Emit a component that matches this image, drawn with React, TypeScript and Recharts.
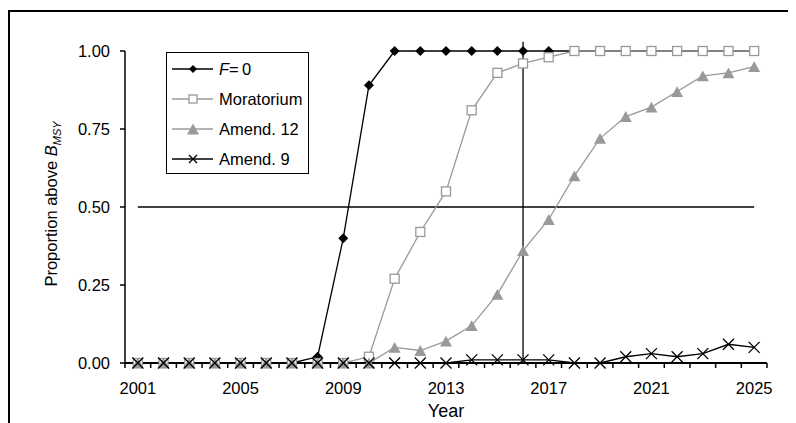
import React from 'react';
import { LineChart, Line, XAxis, YAxis, ReferenceLine, Legend } from 'recharts';

const years = [
  2001, 2002, 2003, 2004, 2005, 2006, 2007, 2008, 2009, 2010, 2011, 2012, 2013,
  2014, 2015, 2016, 2017, 2018, 2019, 2020, 2021, 2022, 2023, 2024, 2025,
];
const fZero = [
  0, 0, 0, 0, 0, 0, 0, 0.02, 0.4, 0.89, 1, 1, 1, 1, 1, 1, 1, 1, 1, 1, 1, 1, 1, 1, 1,
];
const moratorium = [
  0, 0, 0, 0, 0, 0, 0, 0, 0, 0.02, 0.27, 0.42, 0.55, 0.81, 0.93, 0.96, 0.98, 1, 1, 1, 1, 1, 1, 1, 1,
];
const amend12 = [
  0, 0, 0, 0, 0, 0, 0, 0, 0, 0, 0.05, 0.04, 0.07, 0.12, 0.22, 0.36, 0.46, 0.6, 0.72, 0.79, 0.82, 0.87, 0.92, 0.93, 0.95,
];
const amend9 = [
  0, 0, 0, 0, 0, 0, 0, 0, 0, 0, 0, 0, 0, 0.01, 0.01, 0.01, 0.01, 0, 0, 0.02, 0.03, 0.02, 0.03, 0.06, 0.05,
];
const yearLabels = [2001, 2005, 2009, 2013, 2017, 2021, 2025];
const proportionTicks = [0, 0.25, 0.5, 0.75, 1];
const targetLevel = 0.5;
const markerYear = 2016;

const data = years.map((year, i) => ({
  year,
  fZero: fZero[i],
  moratorium: moratorium[i],
  amend12: amend12[i],
  amend9: amend9[i],
}));

// tick marks sit between the years, like a category axis
const yearEdges = [...years.map((y) => y - 0.5), years[years.length - 1] + 0.5];
const xDomain = [yearEdges[0], yearEdges[yearEdges.length - 1]];

const GRAY = '#999999';
const FONT = "'Liberation Sans', Arial, sans-serif";

type Kind = 'diamond' | 'square' | 'triangle' | 'cross';

const series: { key: string; name: React.ReactNode; color: string; kind: Kind; size: number; legendSize: number }[] = [
  { key: 'fZero', name: <><i>F</i>={'\u2009'}0</>, color: '#000', kind: 'diamond', size: 10, legendSize: 8 },
  { key: 'moratorium', name: 'Moratorium', color: GRAY, kind: 'square', size: 9, legendSize: 8 },
  { key: 'amend12', name: 'Amend. 12', color: GRAY, kind: 'triangle', size: 12, legendSize: 12 },
  { key: 'amend9', name: 'Amend. 9', color: '#000', kind: 'cross', size: 11, legendSize: 8 },
];

function Marker({ kind, cx, cy, s }: { kind: Kind; cx: number; cy: number; s: number }) {
  const h = s / 2;
  if (kind === 'diamond') {
    return <path d={`M${cx},${cy - h}L${cx + h},${cy}L${cx},${cy + h}L${cx - h},${cy}Z`} fill="#000" />;
  }
  if (kind === 'square') {
    return <rect x={cx - h} y={cy - h} width={s} height={s} fill="#fff" stroke={GRAY} strokeWidth={1.3} />;
  }
  if (kind === 'triangle') {
    const th = s * 0.9;
    return (
      <path d={`M${cx},${cy - th / 2}L${cx + h},${cy + th / 2}L${cx - h},${cy + th / 2}Z`} fill={GRAY} />
    );
  }
  return (
    <path
      d={`M${cx - h},${cy - h}L${cx + h},${cy + h}M${cx + h},${cy - h}L${cx - h},${cy + h}`}
      stroke="#000"
      strokeWidth={1.3}
      fill="none"
    />
  );
}

const LegendBox = () => (
  <div
    style={{
      border: '1px solid #000',
      background: '#fff',
      width: 141,
      height: 119,
      paddingTop: 1,
      boxSizing: 'content-box',
      fontFamily: FONT,
      fontSize: 16.5,
      color: '#000',
    }}
  >
    {series.map((s) => (
      <div key={s.key} style={{ height: 30, display: 'flex', alignItems: 'center' }}>
        <svg width={52} height={30} style={{ display: 'block' }}>
          <line x1={5} y1={15} x2={46} y2={15} stroke={s.color} strokeWidth={1.3} />
          <Marker kind={s.kind} cx={26} cy={15} s={s.legendSize} />
        </svg>
        <span>{s.name}</span>
      </div>
    ))}
  </div>
);

const YTitle = (props: any) => {
  const { viewBox } = props;
  const x = viewBox.x + 49;
  const y = viewBox.y + viewBox.height / 2 - 3;
  return (
    <text
      x={x}
      y={y}
      transform={`rotate(-90, ${x}, ${y})`}
      textAnchor="middle"
      fontFamily={FONT}
      fontSize={16.5}
      fill="#000"
      stroke="none"
    >
      Proportion above <tspan fontStyle="italic">B</tspan>
      <tspan fontStyle="italic" fontSize={11} dy={4}>
        MSY
      </tspan>
    </text>
  );
};

const NoLabel = () => <g />;

export default function App() {
  return (
    <div style={{ position: 'relative', width: 788, height: 415, overflow: 'hidden', background: '#fff' }}>
      <div
        style={{
          position: 'absolute',
          left: 0,
          top: 1.5,
          width: 900,
          height: 500,
          borderLeft: '2px solid #000',
          borderTop: '2px solid #000',
        }}
      />
      <div style={{ position: 'absolute', left: 0, top: 0 }}>
        <LineChart width={788} height={415} data={data} margin={{ top: 43, right: 29, bottom: 0, left: 0 }}>
          <XAxis
            xAxisId="edges"
            dataKey="year"
            type="number"
            domain={xDomain}
            ticks={yearEdges}
            interval={0}
            tick={NoLabel}
            tickLine={{ stroke: '#000', strokeWidth: 1.5 }}
            tickSize={5}
            height={4}
            axisLine={{ stroke: '#000', strokeWidth: 1.8 }}
            allowDataOverflow
          />
          <XAxis
            xAxisId="labels"
            dataKey="year"
            type="number"
            domain={xDomain}
            ticks={yearLabels}
            interval={0}
            axisLine={false}
            tickLine={false}
            tickSize={6}
            tickMargin={9}
            height={56}
            tick={{ fill: '#000', fontSize: 16.5, fontFamily: FONT }}
            label={{ value: 'Year', position: 'insideBottom', offset: 6, fill: '#000', fontSize: 18, fontFamily: FONT }}
          />
          <YAxis
            type="number"
            domain={[0, 1]}
            ticks={proportionTicks}
            interval={0}
            width={117}
            tickSize={5}
            tickMargin={10}
            stroke="#000"
            strokeWidth={1.5}
            tick={{ fill: '#000', fontSize: 16.5, fontFamily: FONT }}
            tickFormatter={(v: number) => v.toFixed(2)}
            label={<YTitle />}
          />
          <ReferenceLine
            xAxisId="edges"
            segment={[
              { x: years[0], y: targetLevel },
              { x: years[years.length - 1], y: targetLevel },
            ]}
            stroke="#000"
            strokeWidth={1.3}
          />
          <ReferenceLine
            xAxisId="edges"
            segment={[
              { x: markerYear, y: 0 },
              { x: markerYear, y: 1.03 },
            ]}
            ifOverflow="visible"
            stroke="#000"
            strokeWidth={1.3}
          />
          {series.map((s) => (
            <Line
              key={s.key}
              xAxisId="edges"
              dataKey={s.key}
              type="linear"
              stroke={s.color}
              strokeWidth={1.3}
              isAnimationActive={false}
              activeDot={false}
              dot={(p: any) => <Marker key={`${s.key}-${p.index}`} kind={s.kind} cx={p.cx} cy={p.cy} s={s.size} />}
            />
          ))}
          <Legend
            layout="vertical"
            align="center"
            verticalAlign="middle"
            content={<LegendBox />}
            wrapperStyle={{ left: 158, top: 44, width: 'auto', height: 'auto' }}
          />
        </LineChart>
      </div>
    </div>
  );
}
